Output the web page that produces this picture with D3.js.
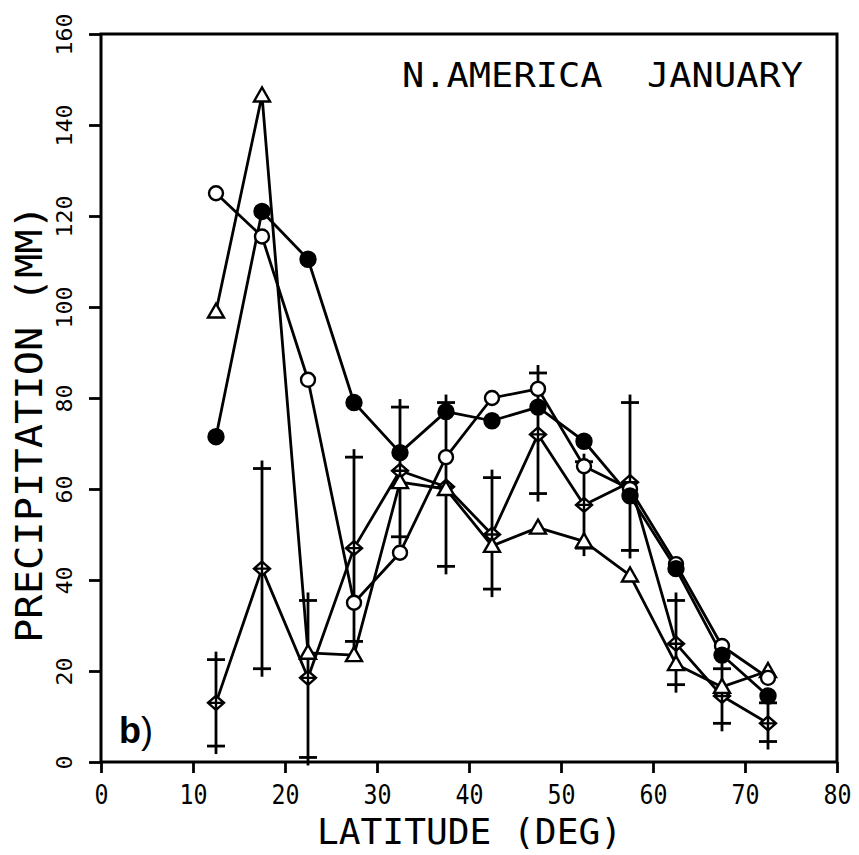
<!DOCTYPE html>
<html>
<head>
<meta charset="utf-8">
<script src="https://cdn.jsdelivr.net/npm/d3@7"></script>
<style>
  html, body { margin: 0; padding: 0; background: #fff; }
  svg { display: block; }
</style>
</head>
<body>
<script>
var W = 859, H = 855;

// latitude band centres
var latitudes = [12.5, 17.5, 22.5, 27.5, 32.5, 37.5, 42.5, 47.5, 52.5, 57.5, 62.5, 67.5, 72.5];
// open circles
var openCircle = [125, 115.5, 84, 35, 46, 67, 80, 82, 65, 60, 43.5, 25.5, 18.5];
// filled circles
var filledCircle = [71.5, 121, 110.5, 79, 68, 77, 75, 78, 70.5, 58.5, 42.5, 23.5, 14.5];
// open triangles
var triangle = [99, 146.5, 24, 23.5, 61.5, 60, 47.5, 51.5, 48.5, 41, 21.5, 16.5, 20];
// crossed diamonds with range bars
var diamond = [13, 42.5, 18.5, 47, 64, 60.5, 50, 72, 56.5, 61.5, 26, 14.5, 8.5];
var barLow = [3.5, 20.5, 1, 26.5, 49.5, 43, 38, 59, 47, 46.5, 17, 8.5, 4.5];
var barHigh = [22.5, 64.5, 35.5, 67, 78, 79, 62.5, 85.5, 66, 79, 35.5, 20.5, 13];

var xTicks = [0, 10, 20, 30, 40, 50, 60, 70, 80];
var yTicks = [0, 20, 40, 60, 80, 100, 120, 140, 160];

var mono = "'DejaVu Sans Mono', 'Liberation Mono', monospace";
var LW = 2.8;

var svg = d3.select("body").append("svg")
  .attr("width", W).attr("height", H);

var x = d3.scaleLinear().domain([0, 80]).range([101, 837]);
var y = d3.scaleLinear().domain([0, 160]).range([762, 34]);

// axes
var gx = svg.append("g")
  .attr("transform", "translate(0," + y(0) + ")")
  .call(d3.axisBottom(x).tickValues(xTicks).tickSize(11).tickSizeOuter(0));
gx.select(".domain").remove();
gx.selectAll("line").attr("stroke", "#000").attr("stroke-width", LW);
gx.selectAll("text")
  .attr("font-family", mono).attr("font-size", 26).attr("fill", "#000")
  .attr("dy", null).attr("y", 42)
  .attr("textLength", function(d) { return String(d).length * 14; })
  .attr("lengthAdjust", "spacingAndGlyphs");

var gy = svg.append("g")
  .attr("transform", "translate(" + x(0) + ",0)")
  .call(d3.axisLeft(y).tickValues(yTicks).tickSize(12).tickSizeOuter(0));
gy.select(".domain").remove();
gy.selectAll("line").attr("stroke", "#000").attr("stroke-width", LW);
gy.selectAll("text")
  .attr("font-family", mono).attr("font-size", 22).attr("fill", "#000")
  .attr("x", null).attr("dy", null)
  .attr("text-anchor", "middle")
  .attr("transform", "translate(-29,0) rotate(-90)")
  .attr("textLength", function(d) { return String(d).length * 14; })
  .attr("lengthAdjust", "spacingAndGlyphs");

// frame
svg.append("rect")
  .attr("x", x(0)).attr("y", y(160))
  .attr("width", x(80) - x(0)).attr("height", y(0) - y(160))
  .attr("fill", "none").attr("stroke", "#000").attr("stroke-width", 3);

// titles
svg.append("text")
  .attr("x", 402).attr("y", 87)
  .attr("font-family", mono).attr("font-size", 33)
  .attr("textLength", 401).attr("lengthAdjust", "spacingAndGlyphs")
  .attr("xml:space", "preserve")
  .text("N.AMERICA  JANUARY");

svg.append("text")
  .attr("x", 317).attr("y", 844)
  .attr("font-family", mono).attr("font-size", 36)
  .attr("textLength", 305).attr("lengthAdjust", "spacingAndGlyphs")
  .text("LATITUDE (DEG)");

svg.append("text")
  .attr("transform", "translate(42,424) rotate(-90)")
  .attr("text-anchor", "middle")
  .attr("font-family", mono).attr("font-size", 38)
  .attr("textLength", 438).attr("lengthAdjust", "spacingAndGlyphs")
  .text("PRECIPITATION (MM)");

var tag = svg.append("text")
  .attr("x", 119).attr("y", 743)
  .attr("font-family", "'Liberation Sans', Arial, sans-serif").attr("font-size", 36);
tag.append("tspan").attr("font-weight", "bold").text("b");
tag.append("tspan").text(")");

// lines
var line = d3.line()
  .x(function(d) { return x(d[0]); })
  .y(function(d) { return y(d[1]); });

function pairs(vals) {
  return latitudes.map(function(lat, i) { return [lat, vals[i]]; });
}

var series = [diamond, triangle, openCircle, filledCircle];
series.forEach(function(vals) {
  svg.append("path")
    .attr("d", line(pairs(vals)))
    .attr("fill", "none").attr("stroke", "#000").attr("stroke-width", LW)
    .attr("stroke-linejoin", "round");
});

// range bars: vertical stroke running a little past each cap
var bars = svg.append("g").attr("stroke", "#000").attr("stroke-width", LW);
latitudes.forEach(function(lat, i) {
  var cx = x(lat);
  bars.append("line")
    .attr("x1", cx).attr("x2", cx)
    .attr("y1", y(barLow[i]) + 8).attr("y2", y(barHigh[i]) - 8);
  [barLow[i], barHigh[i]].forEach(function(v) {
    bars.append("line")
      .attr("x1", cx - 9).attr("x2", cx + 9)
      .attr("y1", y(v)).attr("y2", y(v));
  });
});

// markers
var mk = svg.append("g").attr("stroke", "#000").attr("stroke-width", 2.4);

mk.selectAll(".dia").data(pairs(diamond)).enter().append("path")
  .attr("transform", function(d) { return "translate(" + x(d[0]) + "," + y(d[1]) + ")"; })
  .attr("fill", "#fff")
  .attr("d", "M0,-7L8,0L0,7L-8,0Z M-8,0H8 M0,-7V7");

mk.selectAll(".tri").data(pairs(triangle)).enter().append("path")
  .attr("transform", function(d) { return "translate(" + x(d[0]) + "," + y(d[1]) + ")"; })
  .attr("fill", "#fff")
  .attr("d", "M0,-8L8,6L-8,6Z");

mk.selectAll(".oc").data(pairs(openCircle)).enter().append("circle")
  .attr("cx", function(d) { return x(d[0]); })
  .attr("cy", function(d) { return y(d[1]); })
  .attr("r", 7).attr("fill", "#fff");

mk.selectAll(".fc").data(pairs(filledCircle)).enter().append("circle")
  .attr("cx", function(d) { return x(d[0]); })
  .attr("cy", function(d) { return y(d[1]); })
  .attr("r", 7.5).attr("fill", "#000");
</script>
</body>
</html>
